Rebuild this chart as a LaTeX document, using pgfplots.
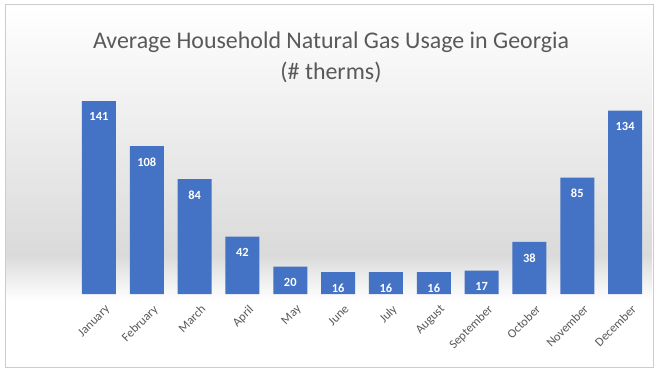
\documentclass[border=0pt]{standalone}
\usepackage{pgfplots}
\pgfplotsset{compat=1.18}
\usepackage{fontspec}
\setmainfont{Carlito}
\definecolor{barblue}{HTML}{4472C4}
\definecolor{txtgray}{HTML}{595959}
\definecolor{bggray}{HTML}{DADADA}
\begin{document}
\begin{tikzpicture}[x=1bp,y=1bp]
\path[use as bounding box] (0,0) rectangle (658,376);
\fill[white] (0,0) rectangle (658,376);
\shade[top color=white, bottom color=bggray] (6,121) rectangle (652,370);
\shade[top color=bggray, bottom color=white] (6,76) rectangle (652,121);
\draw[color=black!20, line width=1bp] (5,9) rectangle (653,371);
\node[text=txtgray, font=\fontsize{24}{28}\selectfont] at (331,334) {Average Household Natural Gas Usage in Georgia};
\node[text=txtgray, font=\fontsize{24}{28}\selectfont] at (331,304) {(\# therms)};
\begin{axis}[
  at={(75bp,82bp)}, anchor=south west,
  scale only axis, width=574bp, height=205.3bp,
  xmin=-0.5, xmax=11.5, ymin=0, ymax=150,
  axis line style={draw=none},
  ytick=\empty,
  xtick={0,...,11},
  xticklabels={January,February,March,April,May,June,July,August,September,October,November,December},
  xticklabel style={rotate=45, anchor=north east, text=txtgray, font=\fontsize{12.5}{15}\selectfont, inner sep=0bp, xshift=-3bp, yshift=-11bp},
  major tick length=0pt,
  clip=false,
  /pgf/number format/assume math mode=true,
  ybar, bar width=34bp,
  nodes near coords,
  every node near coord/.append style={anchor=north, yshift=-8bp, text=white, font=\bfseries\fontsize{12.5}{14}\selectfont},
]
\addplot[fill=barblue, draw=none] coordinates {(0,141) (1,108) (2,84) (3,42) (4,20) (5,16) (6,16) (7,16) (8,17) (9,38) (10,85) (11,134)};
\end{axis}
\end{tikzpicture}
\end{document}
